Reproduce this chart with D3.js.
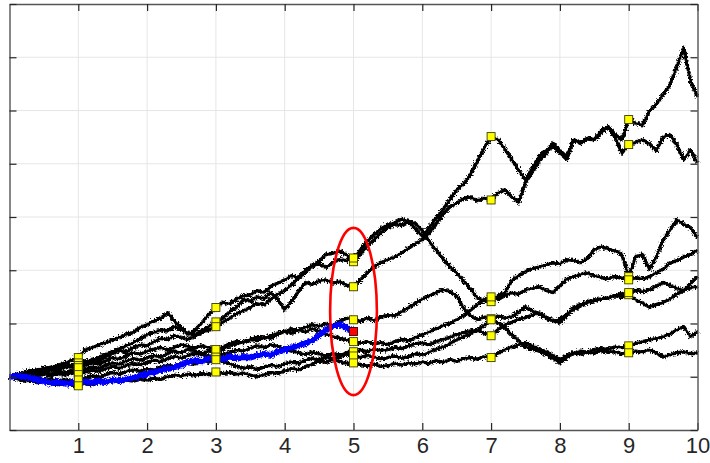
<!DOCTYPE html>
<html>
<head>
<meta charset="utf-8">
<script src="https://cdn.jsdelivr.net/npm/d3@7"></script>
<style>
  html, body { margin: 0; padding: 0; background: #fff; }
  svg { display: block; }
</style>
</head>
<body>
<svg id="chart" width="710" height="463"></svg>
<script>
// ---- data -------------------------------------------------------------
const dt = 0.1;                       // sampling step of every path
const xTicks = [1, 2, 3, 4, 5, 6, 7, 8, 9, 10];
const xTickLabels = ["1", "2", "3", "4", "5", "6", "7", "8", "9", "10"];
const yTicks = [-1, 0, 1, 2, 3, 4, 5, 6, 7];
const markerTimes = [1, 3, 5, 7, 9];  // observation dates
const currentTime = 5;                // date of the observed state

const path1 = [0.00,0.03,0.08,0.05,0.12,0.17,0.14,0.22,0.25,0.31, 0.36,0.51,0.54,0.60,0.64,0.69,0.74,0.80,0.83,0.93, 0.98,1.05,1.10,1.20,1.04,0.92,0.79,0.88,1.02,1.18, 1.30,1.40,1.37,1.46,1.52,1.54,1.62,1.58,1.70,1.76, 1.82,1.90,1.86,2.00,2.09,2.16,2.30,2.32,2.36,2.29, 2.16,2.30,2.45,2.57,2.70,2.80,2.86,2.84,2.91,2.78, 2.63,2.80,2.98,3.14,3.32,3.51,3.62,3.79,4.05,4.30, 4.51,4.45,4.28,4.08,3.88,3.70,3.92,4.15,4.24,4.32, 4.20,4.08,4.45,4.40,4.48,4.45,4.62,4.70,4.55,4.45, 4.83,4.76,4.73,4.98,5.12,5.30,5.48,5.82,6.18,5.55, 5.25];
const path2 = [0.00,0.05,0.02,0.08,0.06,0.09,0.13,0.11,0.18,0.22, 0.26,0.30,0.28,0.37,0.42,0.47,0.53,0.58,0.64,0.72, 0.79,0.83,0.88,0.86,0.94,0.88,0.82,0.79,0.87,0.95, 1.03,1.10,1.22,1.30,1.45,1.42,1.50,1.47,1.58,1.45, 1.26,1.42,1.60,1.77,1.74,1.80,1.82,1.76,1.79,1.72, 1.69,1.82,1.95,2.07,2.14,2.20,2.25,2.33,2.41,2.50, 2.57,2.70,2.86,3.05,3.19,3.26,3.35,3.38,3.30,3.36, 3.32,3.45,3.51,3.38,3.27,3.64,3.85,4.05,4.20,4.39, 4.25,4.13,4.45,4.38,4.47,4.45,4.58,4.69,4.50,4.20, 4.36,4.40,4.45,4.38,4.25,4.50,4.55,4.35,4.08,4.26, 4.02];
const path3 = [0.00,0.04,0.07,0.12,0.10,0.15,0.19,0.17,0.22,0.20, 0.21,0.27,0.33,0.30,0.38,0.44,0.49,0.47,0.55,0.60, 0.58,0.66,0.72,0.70,0.77,0.74,0.70,0.76,0.83,0.88, 0.94,1.02,1.10,1.18,1.24,1.30,1.38,1.35,1.46,1.55, 1.62,1.72,1.85,1.95,2.07,2.12,2.05,2.15,2.20,2.18, 2.23,2.38,2.55,2.67,2.78,2.85,2.90,2.96,2.92,2.88, 2.75,2.55,2.38,2.22,2.07,1.95,1.80,1.65,1.48,1.42, 1.41,1.52,1.58,1.80,1.90,1.98,2.03,2.06,2.10,2.14, 2.12,2.20,2.18,2.14,2.22,2.38,2.44,2.40,2.36,2.30, 1.88,2.25,2.30,2.01,2.25,2.57,2.75,2.95,2.86,2.80, 2.61];
const path4 = [0.00,-0.03,0.02,0.06,0.03,0.08,0.05,0.10,0.07,0.12, 0.09,0.14,0.18,0.16,0.22,0.26,0.24,0.30,0.34,0.31, 0.36,0.40,0.37,0.44,0.48,0.45,0.52,0.48,0.44,0.49, 0.45,0.52,0.58,0.62,0.66,0.70,0.68,0.75,0.72,0.80, 0.85,0.82,0.88,0.84,0.90,0.86,0.80,0.76,0.72,0.69, 0.66,0.63,0.66,0.62,0.64,0.60,0.66,0.70,0.68,0.74, 0.79,0.84,0.90,0.96,1.00,1.07,1.15,1.25,1.35,1.44, 1.50,1.45,1.52,1.58,1.55,1.63,1.66,1.69,1.62,1.58, 1.70,1.84,1.88,1.92,1.95,1.90,1.86,1.84,1.88,1.85, 1.82,1.86,1.84,1.88,1.95,2.02,2.14,2.18,2.25,2.30, 2.38];
const path5 = [0.00,0.06,0.04,0.10,0.13,0.11,0.16,0.14,0.20,0.18, 0.17,0.22,0.26,0.24,0.30,0.36,0.33,0.40,0.45,0.42, 0.48,0.52,0.55,0.50,0.56,0.60,0.57,0.54,0.58,0.55, 0.51,0.56,0.62,0.66,0.64,0.70,0.75,0.72,0.78,0.82, 0.85,0.90,0.87,0.93,0.98,0.95,1.00,0.97,1.04,1.10, 1.07,1.04,1.10,1.06,1.12,1.16,1.14,1.22,1.30,1.38, 1.46,1.52,1.58,1.63,1.60,1.52,1.28,1.15,1.07,1.12, 1.09,1.14,1.10,1.13,1.22,1.31,1.24,1.18,1.10,1.04, 1.08,1.18,1.26,1.33,1.39,1.42,1.46,1.48,1.52,1.50, 1.54,1.45,1.38,1.31,1.35,1.39,1.46,1.55,1.63,1.75, 1.88];
const path6 = [0.00,0.02,-0.02,0.03,0.00,0.05,0.02,0.06,0.03,0.07, 0.04,0.08,0.12,0.10,0.15,0.19,0.16,0.21,0.25,0.22, 0.27,0.31,0.28,0.34,0.38,0.35,0.40,0.44,0.41,0.39, 0.37,0.42,0.46,0.50,0.48,0.54,0.58,0.55,0.60,0.57, 0.52,0.48,0.45,0.42,0.46,0.43,0.40,0.44,0.41,0.45, 0.47,0.50,0.47,0.52,0.49,0.51,0.55,0.53,0.58,0.62, 0.64,0.60,0.66,0.70,0.74,0.79,0.83,0.86,0.88,0.82, 0.77,0.88,0.98,1.02,1.08,1.11,1.16,1.20,1.12,1.05, 1.01,1.15,1.30,1.35,1.41,1.44,1.46,1.48,1.53,1.56, 1.58,1.62,1.60,1.63,1.70,1.77,1.72,1.66,1.63,1.67, 1.69];
const path7 = [0.00,-0.03,-0.01,-0.05,-0.02,-0.06,-0.04,-0.08,-0.05,-0.09, -0.06,-0.02,0.02,-0.01,0.04,0.08,0.05,0.10,0.13,0.10, 0.15,0.12,0.18,0.22,0.19,0.25,0.28,0.24,0.30,0.27, 0.32,0.28,0.24,0.20,0.16,0.19,0.14,0.18,0.22,0.19, 0.24,0.28,0.25,0.31,0.35,0.32,0.37,0.34,0.38,0.42, 0.39,0.36,0.40,0.37,0.33,0.36,0.39,0.35,0.38,0.43, 0.41,0.46,0.52,0.56,0.62,0.69,0.75,0.80,0.88,0.97, 1.07,1.01,0.92,0.79,0.68,0.56,0.52,0.48,0.42,0.34, 0.26,0.36,0.45,0.48,0.46,0.51,0.54,0.52,0.56,0.55, 0.58,0.62,0.66,0.69,0.72,0.75,0.80,0.88,0.94,0.75, 0.85];
const path8 = [0.00,-0.04,-0.08,-0.06,-0.11,-0.09,-0.13,-0.15,-0.12,-0.16, -0.17,-0.13,-0.15,-0.10,-0.12,-0.08,-0.10,-0.06,-0.08,-0.05, -0.07,-0.03,-0.05,0.00,0.03,0.01,0.05,0.02,0.06,0.04, 0.09,0.06,0.08,0.05,0.07,0.03,0.00,0.04,0.08,0.06, 0.11,0.15,0.13,0.19,0.24,0.30,0.27,0.32,0.29,0.25, 0.26,0.23,0.20,0.24,0.19,0.21,0.25,0.22,0.26,0.24, 0.28,0.25,0.30,0.27,0.32,0.29,0.34,0.36,0.33,0.38, 0.36,0.44,0.51,0.56,0.60,0.64,0.58,0.52,0.47,0.40, 0.32,0.40,0.45,0.42,0.47,0.44,0.49,0.46,0.47,0.43, 0.45,0.48,0.46,0.51,0.44,0.37,0.41,0.45,0.47,0.43, 0.45];
const simulatedPaths = [path1, path2, path3, path4, path5, path6, path7, path8];

// realised path up to the current date
const observedPath = [0.00,0.02,0.01,-0.02,-0.06,-0.09,-0.12,-0.10,-0.13,-0.11, -0.12,-0.09,-0.11,-0.08,-0.10,-0.06,-0.08,-0.04,-0.02,0.02, 0.05,0.09,0.12,0.15,0.18,0.22,0.28,0.31,0.29,0.34, 0.37,0.33,0.38,0.35,0.37,0.36,0.40,0.43,0.41,0.47, 0.51,0.55,0.58,0.63,0.68,0.78,0.88,0.95,0.98,0.92, 0.85];

// cross-section highlight around the current date (data units)
const highlightCenter = 1.225;
const highlightHalfWidth = 0.34;
const highlightHalfHeight = 1.57;

// ---- layout -----------------------------------------------------------
const svg = d3.select("#chart");
const plot = { left: 9.5, right: 697.5, top: 4, bottom: 430 };

const x = d3.scaleLinear().domain([0, 10]).range([plot.left, plot.right]);
const y = d3.scaleLinear().domain([-1, 7]).range([plot.bottom, plot.top]);

const toPoints = arr => arr.map((v, i) => [i * dt, v]);
const line = d3.line().x(d => x(d[0])).y(d => y(d[1]));

// fine-grained roughness so the sampled paths read as diffusion traces
const defs = svg.append("defs");
const rough = defs.append("filter")
  .attr("id", "rough")
  .attr("filterUnits", "userSpaceOnUse")
  .attr("x", 0).attr("y", 0).attr("width", 710).attr("height", 463);
rough.append("feTurbulence")
  .attr("type", "fractalNoise")
  .attr("baseFrequency", "0.6")
  .attr("numOctaves", 2)
  .attr("seed", 3)
  .attr("result", "noise");
rough.append("feDisplacementMap")
  .attr("in", "SourceGraphic")
  .attr("in2", "noise")
  .attr("scale", 6)
  .attr("xChannelSelector", "R")
  .attr("yChannelSelector", "G");

// grid
const grid = svg.append("g").attr("stroke", "#e6e6e6").attr("stroke-width", 1);
grid.selectAll("line.gx").data(xTicks.slice(0, -1)).join("line")
  .attr("x1", d => x(d)).attr("x2", d => x(d))
  .attr("y1", plot.top).attr("y2", plot.bottom);
grid.selectAll("line.gy").data(yTicks.slice(1, -1)).join("line")
  .attr("y1", d => y(d)).attr("y2", d => y(d))
  .attr("x1", plot.left).attr("x2", plot.right);

// a path = solid core + roughened halo
function drawTrace(parent, values, color, coreWidth, haloWidth) {
  const d = line(toPoints(values));
  parent.append("path")
    .attr("d", d).attr("fill", "none")
    .attr("stroke", color).attr("stroke-width", coreWidth)
    .attr("stroke-linejoin", "round");
  parent.append("path")
    .attr("d", d).attr("fill", "none")
    .attr("stroke", color).attr("stroke-width", haloWidth)
    .attr("stroke-linejoin", "round")
    .attr("filter", "url(#rough)");
}

const traces = svg.append("g");
simulatedPaths.forEach(p => drawTrace(traces, p, "#000", 2.2, 3.4));
drawTrace(svg.append("g"), observedPath, "#0000ff", 4.0, 6.0);

// markers at observation dates
const idx = t => Math.round(t / dt);
const markerData = [];
simulatedPaths.forEach(p => markerTimes.forEach(t => markerData.push([t, p[idx(t)]])));
const ms = 8;
svg.append("g")
  .selectAll("rect")
  .data(markerData)
  .join("rect")
  .attr("x", d => x(d[0]) - ms / 2)
  .attr("y", d => y(d[1]) - ms / 2)
  .attr("width", ms).attr("height", ms)
  .attr("fill", "#ffff00")
  .attr("stroke", "#3a3a00")
  .attr("stroke-width", 0.9);

svg.append("rect")
  .attr("x", x(currentTime) - ms / 2)
  .attr("y", y(observedPath[idx(currentTime)]) - ms / 2)
  .attr("width", ms).attr("height", ms)
  .attr("fill", "#ff0000")
  .attr("stroke", "#3a0000")
  .attr("stroke-width", 0.9);

// highlight ellipse
svg.append("ellipse")
  .attr("cx", x(currentTime))
  .attr("cy", y(highlightCenter))
  .attr("rx", x(currentTime + highlightHalfWidth) - x(currentTime))
  .attr("ry", y(highlightCenter - highlightHalfHeight) - y(highlightCenter))
  .attr("fill", "none")
  .attr("stroke", "#ff0000")
  .attr("stroke-width", 2.6);

// axes (box with inward ticks)
const axisColor = "#555";
const styleAxis = g => {
  g.select(".domain").attr("stroke", axisColor).attr("stroke-width", 1.4);
  g.selectAll(".tick line").attr("stroke", "#262626").attr("stroke-width", 1.2);
};
svg.append("g")
  .attr("transform", `translate(0,${plot.bottom})`)
  .call(d3.axisBottom(x).tickValues(xTicks).tickFormat((d, i) => xTickLabels[i])
        .tickSizeInner(-7).tickSizeOuter(0).tickPadding(7))
  .call(styleAxis)
  .call(g => g.selectAll("text")
    .attr("fill", "#262626")
    .style("font-family", "'Liberation Sans', Arial, Helvetica, sans-serif")
    .style("font-size", "22px"));
svg.append("g")
  .attr("transform", `translate(0,${plot.top})`)
  .call(d3.axisTop(x).tickValues(xTicks).tickFormat("").tickSizeInner(-7).tickSizeOuter(0))
  .call(styleAxis);
svg.append("g")
  .attr("transform", `translate(${plot.left},0)`)
  .call(d3.axisLeft(y).tickValues(yTicks).tickFormat("").tickSizeInner(-7).tickSizeOuter(0))
  .call(styleAxis);
svg.append("g")
  .attr("transform", `translate(${plot.right},0)`)
  .call(d3.axisRight(y).tickValues(yTicks).tickFormat("").tickSizeInner(-7).tickSizeOuter(0))
  .call(styleAxis);
</script>
</body>
</html>
